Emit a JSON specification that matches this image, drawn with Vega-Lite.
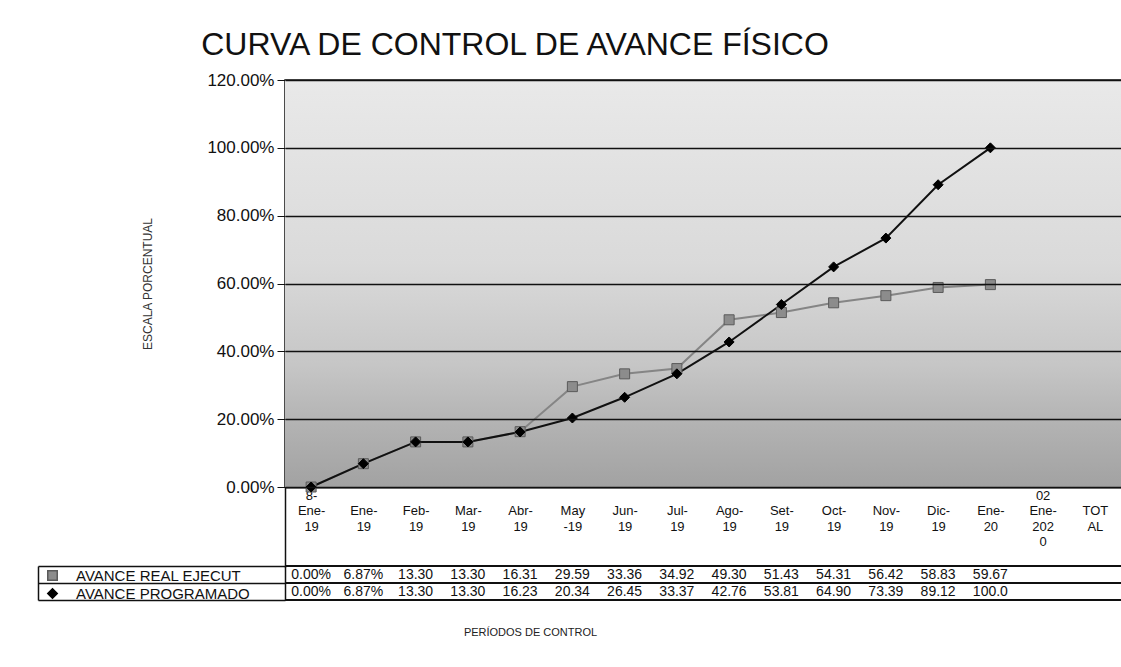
{
  "$schema": "https://vega.github.io/schema/vega-lite/v6.json",
  "autosize": {"type": "none"},
  "padding": {"left": 285, "top": 80, "right": 0, "bottom": 180},
  "background": "white",
  "config": {"font": "Liberation Sans", "view": {"stroke": "#111", "strokeWidth": 1.5}},
  "width": 836,
  "height": 407,
  "title": {"text": "CURVA DE CONTROL DE AVANCE FÍSICO", "fontSize": 32, "fontWeight": "normal", "color": "#111", "anchor": "middle", "dx": -188, "offset": 9},
  "datasets": {
    "avance": [
      {"periodo": "8-Ene-19", "serie": "AVANCE REAL EJECUT", "avance": 0.00, "tabla": "0.00%"},
      {"periodo": "Ene-19", "serie": "AVANCE REAL EJECUT", "avance": 6.87, "tabla": "6.87%"},
      {"periodo": "Feb-19", "serie": "AVANCE REAL EJECUT", "avance": 13.30, "tabla": "13.30"},
      {"periodo": "Mar-19", "serie": "AVANCE REAL EJECUT", "avance": 13.30, "tabla": "13.30"},
      {"periodo": "Abr-19", "serie": "AVANCE REAL EJECUT", "avance": 16.31, "tabla": "16.31"},
      {"periodo": "May-19", "serie": "AVANCE REAL EJECUT", "avance": 29.59, "tabla": "29.59"},
      {"periodo": "Jun-19", "serie": "AVANCE REAL EJECUT", "avance": 33.36, "tabla": "33.36"},
      {"periodo": "Jul-19", "serie": "AVANCE REAL EJECUT", "avance": 34.92, "tabla": "34.92"},
      {"periodo": "Ago-19", "serie": "AVANCE REAL EJECUT", "avance": 49.30, "tabla": "49.30"},
      {"periodo": "Set-19", "serie": "AVANCE REAL EJECUT", "avance": 51.43, "tabla": "51.43"},
      {"periodo": "Oct-19", "serie": "AVANCE REAL EJECUT", "avance": 54.31, "tabla": "54.31"},
      {"periodo": "Nov-19", "serie": "AVANCE REAL EJECUT", "avance": 56.42, "tabla": "56.42"},
      {"periodo": "Dic-19", "serie": "AVANCE REAL EJECUT", "avance": 58.83, "tabla": "58.83"},
      {"periodo": "Ene-20", "serie": "AVANCE REAL EJECUT", "avance": 59.67, "tabla": "59.67"},
      {"periodo": "8-Ene-19", "serie": "AVANCE PROGRAMADO", "avance": 0.00, "tabla": "0.00%"},
      {"periodo": "Ene-19", "serie": "AVANCE PROGRAMADO", "avance": 6.87, "tabla": "6.87%"},
      {"periodo": "Feb-19", "serie": "AVANCE PROGRAMADO", "avance": 13.30, "tabla": "13.30"},
      {"periodo": "Mar-19", "serie": "AVANCE PROGRAMADO", "avance": 13.30, "tabla": "13.30"},
      {"periodo": "Abr-19", "serie": "AVANCE PROGRAMADO", "avance": 16.23, "tabla": "16.23"},
      {"periodo": "May-19", "serie": "AVANCE PROGRAMADO", "avance": 20.34, "tabla": "20.34"},
      {"periodo": "Jun-19", "serie": "AVANCE PROGRAMADO", "avance": 26.45, "tabla": "26.45"},
      {"periodo": "Jul-19", "serie": "AVANCE PROGRAMADO", "avance": 33.37, "tabla": "33.37"},
      {"periodo": "Ago-19", "serie": "AVANCE PROGRAMADO", "avance": 42.76, "tabla": "42.76"},
      {"periodo": "Set-19", "serie": "AVANCE PROGRAMADO", "avance": 53.81, "tabla": "53.81"},
      {"periodo": "Oct-19", "serie": "AVANCE PROGRAMADO", "avance": 64.90, "tabla": "64.90"},
      {"periodo": "Nov-19", "serie": "AVANCE PROGRAMADO", "avance": 73.39, "tabla": "73.39"},
      {"periodo": "Dic-19", "serie": "AVANCE PROGRAMADO", "avance": 89.12, "tabla": "89.12"},
      {"periodo": "Ene-20", "serie": "AVANCE PROGRAMADO", "avance": 100.0, "tabla": "100.0"}
    ]
  },
  "layer": [
    {
      "layer": [
        {
          "data": {"values": [{}]},
          "mark": {"type": "rect", "fill": {"gradient": "linear", "x1": 0, "y1": 0, "x2": 0, "y2": 1, "stops": [{"offset": 0, "color": "#e9e9e9"}, {"offset": 0.45, "color": "#dadada"}, {"offset": 0.7, "color": "#c6c6c6"}, {"offset": 0.85, "color": "#b2b2b2"}, {"offset": 1, "color": "#a2a2a2"}]}},
          "encoding": {
            "y": {"datum": 120, "type": "quantitative", "scale": {"domain": [0, 120], "nice": false},
              "axis": {"values": [0, 20, 40, 60, 80, 100, 120], "labelExpr": "format(datum.value, '.2f') + '%'", "title": "ESCALA PORCENTUAL", "titleFontSize": 12, "titleFontWeight": "normal", "titleColor": "#333", "titlePadding": 52, "grid": true, "gridColor": "#111", "gridWidth": 1.5, "tickColor": "#111", "tickSize": 8, "domain": false, "labelFontSize": 17, "labelPadding": 3, "labelColor": "#111", "zindex": 1}},
            "y2": {"datum": 0}
          }
        },
        {
          "data": {"name": "avance"},
          "transform": [{"filter": "datum.serie == 'AVANCE REAL EJECUT'"}],
          "mark": {"type": "line", "strokeWidth": 2, "color": "#858585"},
          "encoding": {
            "x": {"field": "periodo", "type": "nominal", "title": "PERÍODOS DE CONTROL", "scale": {"domain": ["8-Ene-19", "Ene-19", "Feb-19", "Mar-19", "Abr-19", "May-19", "Jun-19", "Jul-19", "Ago-19", "Set-19", "Oct-19", "Nov-19", "Dic-19", "Ene-20", "02 Ene-2020", "TOTAL"], "paddingInner": 0, "paddingOuter": 0},
              "axis": {"title": "PERÍODOS DE CONTROL", "titleX": 245, "titleY": 145, "titleBaseline": "middle", "titleAlign": "center", "titleFontSize": 11, "titleFontWeight": "normal", "titleColor": "#222", "labelAngle": 0, "labelExpr": "datum.value == '8-Ene-19' ? ['8-','Ene-','19'] : datum.value == 'May-19' ? ['','May','-19'] : datum.value == '02 Ene-2020' ? ['02','Ene-','202','0'] : datum.value == 'TOTAL' ? ['','TOT','AL'] : ['', slice(datum.value,0,4), slice(datum.value,4)]", "labelFontSize": 13, "labelLineHeight": 15.5, "labelBaseline": "top", "labelColor": "#111", "tickOffset": -26, "labelOffset": 26, "labelPadding": -78, "domainColor": "#111", "domainWidth": 2, "ticks": true, "tickSize": 80, "tickWidth": 1.5, "tickColor": {"condition": {"test": "datum.value == '8-Ene-19'", "value": "#111"}, "value": "transparent"}}},
            "y": {"field": "avance", "type": "quantitative", "title": "ESCALA PORCENTUAL"}
          }
        },
        {
          "data": {"name": "avance"},
          "transform": [{"filter": "datum.serie == 'AVANCE PROGRAMADO'"}],
          "mark": {"type": "line", "strokeWidth": 2, "color": "#111111"},
          "encoding": {
            "x": {"field": "periodo", "type": "nominal", "title": "PERÍODOS DE CONTROL"},
            "y": {"field": "avance", "type": "quantitative", "title": "ESCALA PORCENTUAL"}
          }
        },
        {
          "data": {"name": "avance"},
          "mark": {"type": "point", "size": 100, "filled": true, "opacity": 1, "strokeWidth": 1},
          "encoding": {
            "x": {"field": "periodo", "type": "nominal", "title": "PERÍODOS DE CONTROL"},
            "y": {"field": "avance", "type": "quantitative", "title": "ESCALA PORCENTUAL"},
            "shape": {"field": "serie", "type": "nominal", "title": null, "scale": {"domain": ["AVANCE REAL EJECUT", "AVANCE PROGRAMADO"], "range": ["square", "diamond"]},
              "legend": {"orient": "none", "legendX": -240, "legendY": 488, "direction": "vertical", "title": null, "labelFontSize": 15, "labelColor": "#111", "labelLimit": 300, "symbolSize": 90, "rowPadding": 1, "labelOffset": 16, "padding": 0}},
            "fill": {"field": "serie", "type": "nominal", "title": null, "scale": {"domain": ["AVANCE REAL EJECUT", "AVANCE PROGRAMADO"], "range": ["#8c8c8c", "#000000"]},
              "legend": {"orient": "none", "legendX": -240, "legendY": 488, "direction": "vertical", "title": null, "labelFontSize": 15, "labelColor": "#111", "labelLimit": 300, "symbolSize": 90, "rowPadding": 1, "labelOffset": 16, "padding": 0}},
            "stroke": {"field": "serie", "type": "nominal", "title": null, "scale": {"domain": ["AVANCE REAL EJECUT", "AVANCE PROGRAMADO"], "range": ["#5a5a5a", "#000000"]},
              "legend": {"orient": "none", "legendX": -240, "legendY": 488, "direction": "vertical", "title": null, "labelFontSize": 15, "labelColor": "#111", "labelLimit": 300, "symbolSize": 90, "rowPadding": 1, "labelOffset": 16, "padding": 0}}
          }
        }
      ]
    },
    {
      "layer": [
        {
          "data": {"name": "avance"},
          "mark": {"type": "text", "fontSize": 14, "color": "#111"},
          "encoding": {
            "x": {"field": "periodo", "type": "nominal", "title": null, "scale": {"domain": ["8-Ene-19", "Ene-19", "Feb-19", "Mar-19", "Abr-19", "May-19", "Jun-19", "Jul-19", "Ago-19", "Set-19", "Oct-19", "Nov-19", "Dic-19", "Ene-20", "02 Ene-2020", "TOTAL"], "paddingInner": 0, "paddingOuter": 0}, "axis": null},
            "y": {"field": "serie", "type": "nominal", "scale": {"domain": ["AVANCE REAL EJECUT", "AVANCE PROGRAMADO"], "range": [486, 520], "paddingInner": 0, "paddingOuter": 0},
              "axis": {"orient": "left", "title": null, "labels": false, "domain": true, "domainColor": "#111", "domainWidth": 1.5, "ticks": true, "bandPosition": 1, "tickExtra": true, "tickSize": 247, "tickColor": "#111", "tickWidth": 1.5, "grid": false}},
            "text": {"field": "tabla"}
          }
        },
        {
          "data": {"name": "avance"},
          "mark": {"type": "rule", "color": "#111", "strokeWidth": 1.5},
          "encoding": {
            "y": {"field": "serie", "type": "nominal", "bandPosition": 0}
          }
        },
        {
          "data": {"name": "avance"},
          "mark": {"type": "rule", "color": "#111", "strokeWidth": 1.5},
          "encoding": {
            "y": {"field": "serie", "type": "nominal", "bandPosition": 1}
          }
        }
      ]
    },
    {
      "data": {"name": "avance"},
      "mark": {"type": "text", "opacity": 0},
      "encoding": {
        "x": {"field": "periodo", "type": "nominal", "title": null, "scale": {"domain": ["8-Ene-19", "Ene-19", "Feb-19", "Mar-19", "Abr-19", "May-19", "Jun-19", "Jul-19", "Ago-19", "Set-19", "Oct-19", "Nov-19", "Dic-19", "Ene-20", "02 Ene-2020", "TOTAL"], "paddingInner": 0, "paddingOuter": 0}, "axis": null},
        "y": {"field": "serie", "type": "nominal", "scale": {"domain": ["AVANCE REAL EJECUT", "AVANCE PROGRAMADO"], "range": [486, 520], "paddingInner": 0, "paddingOuter": 0},
          "axis": {"orient": "left", "offset": 247, "title": null, "labels": false, "ticks": false, "grid": false, "domain": true, "domainColor": "#111", "domainWidth": 1.5}}
      }
    }
  ],
  "resolve": {"scale": {"y": "independent", "x": "independent"}, "axis": {"y": "independent", "x": "independent"}}
}
